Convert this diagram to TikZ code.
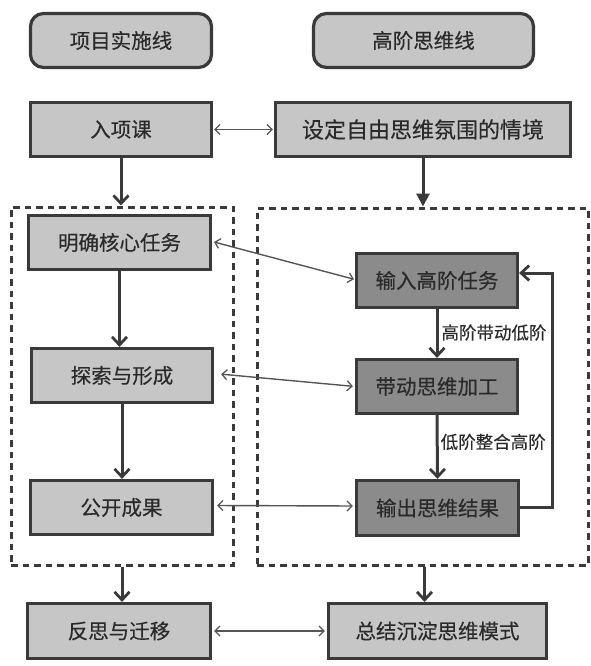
\documentclass[tikz,border=0pt]{standalone}
\usepackage{fontspec}
\setmainfont{Noto Sans CJK SC}[BoldFont=Noto Sans CJK SC, BoldFeatures={FakeBold=0.3}]
\usetikzlibrary{arrows.meta,positioning,calc}
\definecolor{lightfill}{HTML}{C6C6C6}
\definecolor{darkfill}{HTML}{8B8B8B}
\definecolor{border}{HTML}{3A3A3A}
\definecolor{txt}{HTML}{2A2A2A}
\definecolor{thin}{HTML}{555555}
\tikzset{
  box/.style={draw=border, line width=3.2pt, fill=lightfill, text=txt,
    font=\fontsize{20.5}{24}\selectfont\bfseries, inner sep=0pt, anchor=center},
  headbox/.style={box, rounded corners=13pt},
  darkbox/.style={box, fill=darkfill},
  groupbox/.style={draw=border, line width=3pt, dash pattern=on 6.5pt off 5pt, inner sep=0pt},
  thick arrow/.style={draw=border, line width=3pt,
    -{Straight Barb[length=8pt,width=15pt,line width=2.8pt]}},
  solid arrow/.style={draw=border, line width=3pt,
    -{Triangle[length=13pt,width=13pt]}},
  thin arrow/.style={draw=thin, line width=1.4pt,
    {Straight Barb[length=5pt,width=10pt,line width=1.3pt]}-{Straight Barb[length=5pt,width=10pt,line width=1.3pt]}},
  edge label/.style={text=txt, font=\fontsize{17.5}{20}\selectfont\bfseries, inner sep=0pt, anchor=west}
}
\begin{document}
\begin{tikzpicture}[x=1pt,y=-1pt]
\useasboundingbox (0,0) rectangle (591,666);
% headers
\node[headbox, minimum width=181pt, minimum height=54pt] (h1) at (121,40.5) {项目实施线};
\node[headbox, minimum width=220pt, minimum height=54pt] (h2) at (423.5,40.5) {高阶思维线};
% row 1
\node[box, minimum width=181pt, minimum height=54pt] (a1) at (121,129.5) {入项课};
\node[box, minimum width=295pt, minimum height=54pt, font=\fontsize{22}{26}\selectfont\bfseries] (b1) at (423,129.5) {设定自由思维氛围的情境};
% group boxes
\node[groupbox, minimum width=222pt, minimum height=358pt] (dl) at (122,386) {};
\node[groupbox, minimum width=331pt, minimum height=357pt] (dr) at (422.5,386.5) {};
% left column
\node[box, minimum width=182pt, minimum height=54pt] (a2) at (119.5,242.5) {明确核心任务};
\node[box, minimum width=181pt, minimum height=54pt] (a3) at (122,375.5) {探索与形成};
\node[box, minimum width=182pt, minimum height=54pt] (a4) at (121.5,507.5) {公开成果};
\node[box, minimum width=183pt, minimum height=55pt] (a5) at (119,631) {反思与迁移};
% right column
\node[darkbox, minimum width=161pt, minimum height=54pt] (b2) at (437,280.5) {输入高阶任务};
\node[darkbox, minimum width=161pt, minimum height=54pt] (b3) at (437,386.5) {带动思维加工};
\node[darkbox, minimum width=162pt, minimum height=55pt] (b4) at (437.5,508) {输出思维结果};
\node[box, minimum width=218pt, minimum height=55pt] (b5) at (437.5,631) {总结沉淀思维模式};
\coordinate (fb) at (552,0);
% vertical arrows
\draw[thick arrow] (a1.south) -- (a1.south |- dl.north);
\draw[solid arrow] (b1.south) -- (b1.south |- dr.north);
\draw[thick arrow] (a2.south) -- (a2.south |- a3.north);
\draw[thick arrow] (a3.south) -- (a3.south |- a4.north);
\draw[thick arrow] (dl.south) -- (dl.south |- a5.north);
\draw[thick arrow] ([xshift=2pt]dr.south) -- ([xshift=2pt]dr.south |- b5.north);
\draw[thick arrow] (b2.south) -- node[edge label, pos=0.48, xshift=3pt] {高阶带动低阶} (b3.north);
\draw[thick arrow] (b3.south) -- node[edge label, pos=0.42, xshift=2pt] {低阶整合高阶} (b4.north);
% feedback loop
\draw[thick arrow] ([yshift=1pt]b4.east) -- ([yshift=1pt]b4.east -| fb) |- ([yshift=7.5pt]b2.east);
% horizontal double arrows
\draw[thin arrow, shorten <=1pt, shorten >=1pt] (a1.east) -- (b1.west);
\draw[thin arrow, shorten <=2pt, shorten >=1pt] ([yshift=1pt]a2.east) -- ([yshift=1pt]b2.west);
\draw[thin arrow, shorten <=7pt, shorten >=2pt] ([yshift=2pt]a3.east) -- (b3.west);
\draw[thin arrow, shorten <=3pt, shorten >=2pt] ([yshift=2pt]a4.east) -- ([yshift=2pt]b4.west);
\draw[thin arrow, shorten <=2pt, shorten >=2pt] (a5.east) -- (b5.west);
\end{tikzpicture}
\end{document}
